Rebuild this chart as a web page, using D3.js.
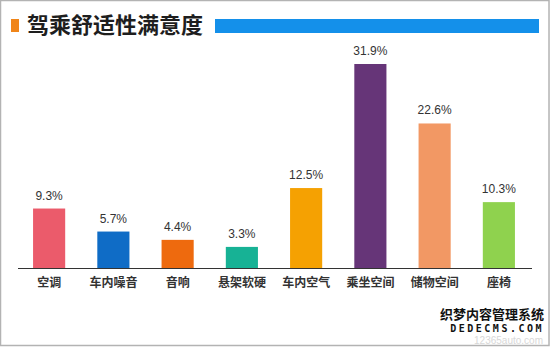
<!DOCTYPE html>
<html>
<head>
<meta charset="utf-8">
<script src="https://cdn.jsdelivr.net/npm/d3@7/dist/d3.min.js"></script>
<style>
  html, body { margin: 0; padding: 0; background: #fff; }
  svg { display: block; }
</style>
</head>
<body>
<script>
// Ride comfort satisfaction by aspect (%)
const categories = ["空调", "车内噪音", "音响", "悬架软硬", "车内空气", "乘坐空间", "储物空间", "座椅"];
const values = [9.3, 5.7, 4.4, 3.3, 12.5, 31.9, 22.6, 10.3];
const barColors = ["#eb5b6b", "#0f6cc6", "#ee6a0e", "#17b295", "#f5a102", "#663578", "#f29864", "#8fd24e"];
const title = "驾乘舒适性满意度";

const W = 550, H = 347;
const baseY = 268;

const svg = d3.select("body").append("svg")
  .attr("width", W).attr("height", H);

svg.append("rect").attr("width", W).attr("height", H).attr("fill", "#fff");

// outer frame
svg.append("rect")
  .attr("x", 0.5).attr("y", 0.5)
  .attr("width", W - 1.5).attr("height", H - 2)
  .attr("fill", "none").attr("stroke", "#b3b3b3").attr("stroke-width", 1.5);

// header: orange marker, title, blue rule
svg.append("rect").attr("x", 11).attr("y", 19).attr("width", 8).attr("height", 13).attr("fill", "#f08519");
svg.append("text")
  .attr("x", 27).attr("y", 33)
  .attr("font-family", "'Noto Sans CJK SC', sans-serif")
  .attr("font-weight", "bold").attr("font-size", 22)
  .attr("fill", "#1e1e1e")
  .text(title);
svg.append("rect").attr("x", 215).attr("y", 19).attr("width", 324).attr("height", 14).attr("fill", "#1490ea");

const x = d3.scaleBand()
  .domain(categories)
  .range([17, 531])
  .paddingInner(0.5)
  .paddingOuter(0.25);

const y = d3.scaleLinear()
  .domain([0, 31.9])
  .range([baseY, 64]);

const g = svg.append("g");

g.selectAll("rect.bar")
  .data(values)
  .join("rect")
  .attr("class", "bar")
  .attr("x", (d, i) => x(categories[i]))
  .attr("y", d => y(d))
  .attr("width", x.bandwidth())
  .attr("height", d => baseY - y(d))
  .attr("fill", (d, i) => barColors[i]);

g.selectAll("text.val")
  .data(values)
  .join("text")
  .attr("class", "val")
  .attr("x", (d, i) => x(categories[i]) + x.bandwidth() / 2)
  .attr("y", d => y(d) - 9)
  .attr("text-anchor", "middle")
  .attr("font-family", "'Liberation Sans', Arial, sans-serif")
  .attr("font-size", 12)
  .attr("fill", "#333")
  .text(d => d.toFixed(1) + "%");

// baseline axis with category labels
const axis = d3.axisBottom(x).tickSize(0).tickPadding(10);
const ax = svg.append("g")
  .attr("transform", `translate(0,${baseY})`)
  .call(axis);
ax.select(".domain")
  .attr("d", `M18,0.5H532`)
  .attr("stroke", "#333").attr("stroke-width", 1.2);
ax.selectAll(".tick text")
  .attr("font-family", "'Noto Sans CJK SC', sans-serif")
  .attr("font-weight", "bold")
  .attr("font-size", 12)
  .attr("fill", "#333");

// site marks in the lower right corner
svg.append("text")
  .attr("x", 543).attr("y", 344)
  .attr("text-anchor", "end")
  .attr("font-family", "'Liberation Sans', Arial, sans-serif")
  .attr("font-size", 10)
  .attr("fill", "#d8d8d8")
  .text("12365auto.com");
svg.append("text")
  .attr("x", 544).attr("y", 319)
  .attr("text-anchor", "end")
  .attr("font-family", "'Noto Sans CJK SC', sans-serif")
  .attr("font-weight", "bold")
  .attr("font-size", 13)
  .attr("fill", "#111")
  .attr("stroke", "#fff").attr("stroke-width", 2).attr("paint-order", "stroke")
  .text("织梦内容管理系统");
svg.append("text")
  .attr("x", 544).attr("y", 332)
  .attr("text-anchor", "end")
  .attr("font-family", "'DejaVu Sans Mono', monospace")
  .attr("font-weight", "bold")
  .attr("font-size", 10)
  .attr("letter-spacing", 2.5)
  .attr("fill", "#111")
  .attr("stroke", "#fff").attr("stroke-width", 2).attr("paint-order", "stroke")
  .text("DEDECMS.COM");
</script>
</body>
</html>
